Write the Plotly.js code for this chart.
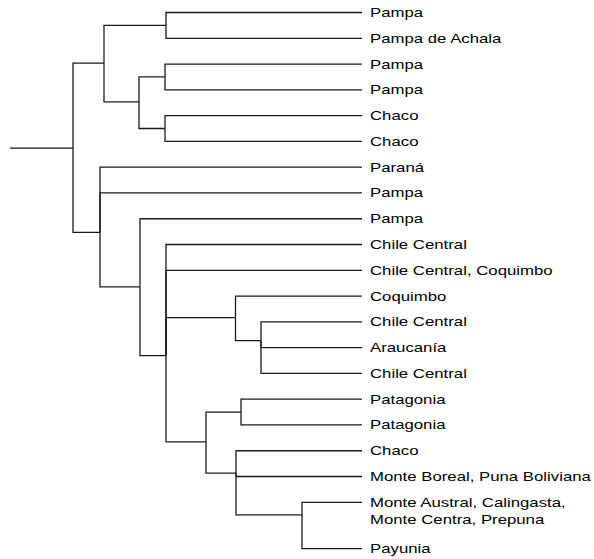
<!DOCTYPE html>
<html>
<head>
<meta charset="utf-8">
<script src="https://cdn.plot.ly/plotly-3.0.1.min.js"></script>
<style>
  html, body { margin: 0; padding: 0; background: #fff; }
  #chart { width: 594px; height: 559px; }
  .annotation-text { transform: scaleX(1.29); transform-box: fill-box; transform-origin: 0% 50%; }
</style>
</head>
<body>
<div id="chart"></div>
<script>
// ---- Leaves (top to bottom) ----
var leafLabels = [
  "Pampa", "Pampa de Achala", "Pampa", "Pampa", "Chaco", "Chaco",
  "Paraná", "Pampa", "Pampa", "Chile Central", "Chile Central, Coquimbo",
  "Coquimbo", "Chile Central", "Araucanía", "Chile Central",
  "Patagonia", "Patagonia", "Chaco", "Monte Boreal, Puna Boliviana",
  "Monte Austral, Calingasta,<br>Monte Centra, Prepuna", "Payunia"
];
var leafY = [0, 1, 2, 3, 4, 5, 6, 7, 8, 9, 10, 11, 12, 13, 14, 15, 16, 17, 18, 19, 20.8];
var leafParent = ["A1", "A1", "A2a", "A2a", "A2b", "A2b",
  "B", "B", "B1", "B2", "B2",
  "B3", "B3a", "B3a", "B3a",
  "B4a", "B4a", "B4b", "B4b", "B4c", "B4c"];
var leafDepth = 352;

// ---- Internal nodes ----
var nodeNames  = ["R", "A", "A1", "A2", "A2a", "A2b", "B", "B1", "B2", "B3", "B3a", "B4", "B4a", "B4b", "B4c"];
var nodeParent = ["",  "R", "A",  "A",  "A2",  "A2",  "R", "B",  "B1", "B2", "B3",  "B2", "B4",  "B4",  "B4b"];
var nodeDepth  = [63,  94,  156,  129,  155,   155,   90,  130,  156,  225.5, 251, 196,  231,   226,   292];
var nodeY      = [5.26, 1.96, 0.5, 3.47, 2.5,  4.5,   8.53, 10.64, 13.31, 11.84, 12.73, 16.66, 15.5, 17.87, 19.49];
var rootTipDepth = 0;

// ---- Build elbow paths ----
var idx = {};
nodeNames.forEach(function (n, i) { idx[n] = i; });
var xs = [], ys = [];
function elbow(pName, cx, cy) {
  var p = idx[pName];
  xs.push(nodeDepth[p], nodeDepth[p], cx, null);
  ys.push(nodeY[p], cy, cy, null);
}
// root stem
xs.push(rootTipDepth, nodeDepth[idx["R"]], null);
ys.push(nodeY[idx["R"]], nodeY[idx["R"]], null);
nodeNames.forEach(function (n, i) {
  if (nodeParent[i]) elbow(nodeParent[i], nodeDepth[i], nodeY[i]);
});
leafLabels.forEach(function (l, i) {
  elbow(leafParent[i], leafDepth, leafY[i]);
});

var trace = {
  type: "scatter", mode: "lines", x: xs, y: ys,
  line: { color: "#1a1a1a", width: 1.3, shape: "linear" },
  hoverinfo: "skip", cliponaxis: false, showlegend: false
};

var annotations = leafLabels.map(function (l, i) {
  var multi = l.indexOf("<br>") >= 0;
  return {
    x: leafDepth, y: leafY[i], xref: "x", yref: "y",
    text: l, showarrow: false, xanchor: "left", yanchor: "middle",
    align: "left", xshift: 6, yshift: multi ? -8.5 : 0,
    font: { family: "Liberation Sans, Arial, sans-serif", size: 13, color: "#000" }
  };
});

var layout = {
  width: 594, height: 559,
  margin: { l: 0, r: 0, t: 0, b: 0, pad: 0 },
  paper_bgcolor: "#fff", plot_bgcolor: "#fff",
  xaxis: { range: [-10, 584], visible: false, fixedrange: true },
  yaxis: { range: [21.2, -0.485], visible: false, fixedrange: true },
  annotations: annotations,
  showlegend: false
};

Plotly.newPlot("chart", [trace], layout, { displayModeBar: false, staticPlot: true });
</script>
</body>
</html>
